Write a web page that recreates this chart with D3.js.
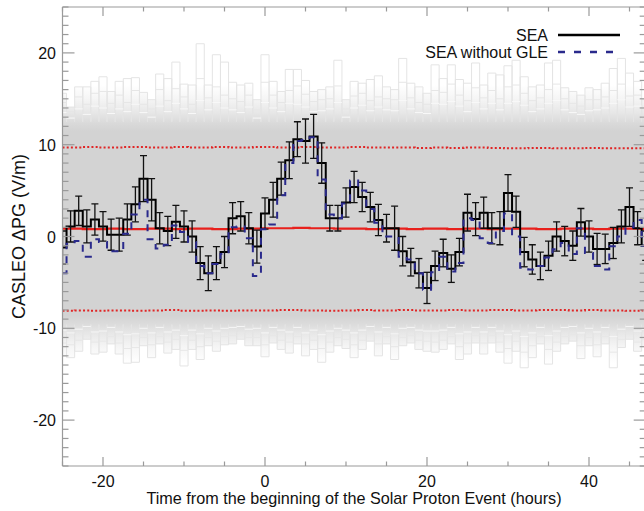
<!DOCTYPE html>
<html>
<head>
<meta charset="utf-8">
<script src="https://cdn.jsdelivr.net/npm/d3@7"></script>
<style>
  html, body { margin: 0; padding: 0; background: #fff; }
  svg { display: block; }
  text { font-family: "Liberation Sans", Arial, Helvetica, sans-serif; fill: #111; }
</style>
</head>
<body>
<svg id="chart" width="644" height="511"></svg>
<script>
// Hours relative to the onset of the solar proton event
const hours = [-25,-24,-23,-22,-21,-20,-19,-18,-17,-16,-15,-14,-13,-12,-11,-10,-9,-8,-7,-6,-5,-4,-3,-2,-1,
  0,1,2,3,4,5,6,7,8,9,10,11,12,13,14,15,16,17,18,19,20,21,22,23,24,25,26,27,28,29,30,31,32,33,34,35,36,
  37,38,39,40,41,42,43,44,45,46,47];

// Superposed epoch analysis of CASLEO ΔPG (V/m)
const sea = [-1.2,1.1,2.8,1.1,1.85,1.1,0.2,0.2,1.85,3.5,6.3,4.0,0.9,0.6,1.6,1.1,0.0,-2.9,-4.0,-2.9,-1.7,2.0,2.2,0.9,-1.1,
  2.5,4.0,6.3,8.3,10.6,10.4,10.9,8.0,2.0,2.0,3.7,5.4,4.3,3.2,1.8,0.9,0.9,-1.6,-2.8,-4.0,-5.6,-3.2,-1.8,-3.5,-1.7,2.6,1.9,
  2.6,0.9,0.9,4.75,2.7,-1.7,-2.5,-3.2,-2.1,0.0,-0.5,-1.0,1.55,0.0,-1.35,-1.35,-0.7,1.1,3.2,0.9,-1.0];

// Standard error of the SEA
const seaErr = [1.8,1.7,1.6,1.8,1.7,1.6,1.7,1.8,1.7,1.9,2.5,2.3,1.7,1.6,1.8,1.7,1.7,1.8,1.9,1.8,1.7,1.7,1.6,1.7,1.8,
  1.7,1.9,1.8,2.0,1.9,2.4,2.4,2.2,1.4,1.4,1.6,1.7,1.6,1.6,1.7,1.5,2.4,1.6,1.5,1.6,1.7,1.6,1.5,1.5,1.5,2.0,1.8,
  1.7,1.7,1.8,2.0,1.7,1.6,1.6,1.5,1.6,1.6,1.6,1.6,1.5,1.7,1.7,1.6,1.7,1.8,2.1,1.8,1.6];

// SEA computed without the ground level enhancement events
const seaNoGle = [-4.0,-0.8,-0.5,-2.2,-0.3,-0.6,-1.6,-1.6,0.3,2.4,4.0,-0.3,-1.3,-0.9,1.2,0.5,-0.6,-3.2,-4.0,-3.0,-1.9,1.0,1.1,-0.2,-4.3,
  0.8,1.3,4.5,8.0,10.4,10.5,10.8,6.2,2.4,2.0,3.6,6.1,5.0,3.0,1.5,0.0,0.0,-2.2,-2.5,-4.0,-5.8,-3.9,-2.2,-3.8,-2.9,2.0,1.8,
  -0.2,-0.7,0.6,2.5,0.0,-3.4,-3.6,-3.2,-2.3,-1.4,-0.7,-1.9,0.9,-1.8,-3.2,-3.6,-1.05,0.0,1.0,1.8,-1.0];

// Mean and 2-sigma limits of the random-epoch SEAs
const randMean = [0.85,0.85,0.85,0.8,0.8,0.8,0.85,0.85,0.8,0.8,0.8,0.85,0.85,0.85,0.8,0.8,0.85,0.85,0.85,0.8,0.8,0.8,0.85,0.85,0.85,
  0.9,0.9,0.9,0.9,0.95,0.95,0.9,0.9,0.9,0.85,0.85,0.85,0.85,0.8,0.8,0.85,0.85,0.85,0.8,0.8,0.85,0.85,0.85,0.8,0.8,0.85,0.85,
  0.85,0.8,0.8,0.85,0.85,0.85,0.85,0.8,0.8,0.8,0.85,0.85,0.85,0.85,0.8,0.8,0.85,0.85,0.85,0.85,0.8];
const randUp2s = [9.7,9.7,9.7,9.75,9.75,9.7,9.7,9.7,9.75,9.75,9.75,9.7,9.7,9.7,9.75,9.75,9.7,9.7,9.7,9.75,9.75,9.7,9.7,9.7,9.75,
  9.75,9.75,9.7,9.7,9.7,9.75,9.75,9.7,9.7,9.7,9.7,9.75,9.75,9.7,9.7,9.7,9.7,9.7,9.7,9.65,9.65,9.7,9.7,9.65,9.65,9.7,9.7,
  9.7,9.65,9.65,9.6,9.6,9.6,9.65,9.65,9.65,9.6,9.6,9.6,9.6,9.65,9.65,9.6,9.6,9.6,9.6,9.6,9.6];
const randLo2s = [-8.1,-8.1,-8.05,-8.05,-8.1,-8.1,-8.05,-8.05,-8.05,-8.1,-8.1,-8.05,-8.05,-8.0,-8.0,-8.1,-8.1,-8.1,-8.05,-8.05,-8.1,-8.1,-8.05,-8.05,-8.05,
  -8.05,-8.05,-8.0,-8.0,-8.0,-8.05,-8.05,-8.05,-8.1,-8.1,-8.05,-8.05,-8.0,-8.0,-8.05,-8.05,-8.05,-8.0,-8.0,-8.05,-8.05,-8.05,-8.05,-8.0,-8.0,-8.05,-8.05,
  -8.05,-8.0,-8.0,-8.0,-8.05,-8.05,-8.05,-8.0,-8.0,-8.0,-8.0,-8.05,-8.05,-8.0,-8.0,-8.05,-8.05,-8.05,-8.1,-8.1,-8.05];

// Envelope levels of the random-epoch SEA curves, per hour
const randMax = [15.6,14.1,16.3,16.3,16.9,17.4,15.8,16.9,17.2,17.3,15.7,14.9,17.7,17.2,19.0,16.6,16.5,21.0,16.5,19.8,19.0,16.8,16.5,16.7,14.9,
  19.8,16.9,15.8,18.2,18.2,17.0,15.8,16.0,16.3,19.2,14.9,16.9,16.7,17.1,17.5,16.3,16.0,19.4,16.7,16.3,15.6,18.7,17.2,18.7,17.1,16.7,18.9,
  16.5,17.8,17.6,18.6,19.2,17.4,16.3,16.5,18.9,19.2,16.2,15.8,15.4,16.2,16.0,16.7,18.3,19.4,17.8,16.9,14.9];
const randHigh2 = [14.6,13.6,15.2,14.4,15.6,15.8,14.5,15.4,14.6,15.9,14.4,13.9,16.0,14.8,16.1,15.2,14.4,17.2,15.1,16.3,15.4,15.0,14.7,15.4,13.8,
  16.8,15.4,14.6,15.9,16.4,15.5,14.7,14.9,15.0,16.4,13.9,15.3,15.6,14.8,15.2,15.0,14.9,16.8,15.1,14.6,14.4,15.9,15.7,16.6,15.4,14.8,16.2,
  15.1,15.9,15.0,16.3,16.5,15.6,14.8,15.1,16.0,16.6,15.0,14.5,14.2,14.9,14.9,15.2,15.9,16.6,15.3,15.4,13.9];
const randHigh3 = [13.5,12.9,13.9,13.3,14.2,14.0,13.4,13.9,13.6,14.4,13.5,13.0,14.2,13.6,14.5,13.9,13.4,14.8,13.8,14.6,14.0,13.8,13.5,14.1,12.9,
  14.6,14.0,13.6,14.5,14.4,14.1,13.6,13.7,13.9,14.6,13.0,14.0,14.3,13.7,14.1,13.8,13.7,14.8,13.9,13.5,13.4,14.5,14.4,14.7,14.2,13.6,14.6,
  13.9,14.5,13.8,14.5,14.7,14.3,13.6,13.9,14.5,14.8,13.8,13.5,13.3,13.7,13.8,14.0,14.5,14.9,14.1,14.2,13.0];
const randLow3 = [-10.2,-10.5,-10.1,-9.8,-10.4,-10.3,-9.9,-10.4,-10.7,-10.6,-10.0,-10.5,-9.9,-10.4,-10.2,-10.8,-10.2,-10.6,-10.0,-10.3,-10.0,-9.9,-9.8,-10.1,-10.0,
  -10.5,-9.9,-10.2,-10.4,-9.9,-10.5,-10.2,-10.7,-10.3,-10.0,-10.2,-10.5,-10.2,-9.8,-10.4,-9.9,-10.6,-10.0,-9.9,-10.2,-10.3,-10.3,-10.2,-9.9,-10.6,-10.4,-9.9,
  -10.4,-9.9,-10.3,-10.7,-10.3,-10.9,-10.5,-9.9,-10.8,-10.3,-9.9,-9.8,-10.5,-10.0,-10.4,-9.9,-10.9,-10.1,-9.8,-10.3,-10.1];
const randLow2 = [-11.6,-11.8,-11.3,-10.6,-11.5,-11.4,-10.9,-11.6,-12.2,-12.1,-11.0,-11.8,-10.9,-11.5,-11.2,-12.4,-11.3,-12.0,-11.0,-11.4,-10.9,-10.8,-10.5,-11.0,-11.0,
  -11.8,-10.8,-11.3,-11.5,-10.9,-11.7,-11.3,-12.2,-11.5,-11.0,-11.2,-11.8,-11.3,-10.6,-11.7,-10.9,-12.0,-11.0,-10.8,-11.3,-11.4,-11.5,-11.3,-10.9,-12.0,-11.6,-10.8,
  -11.6,-10.8,-11.5,-12.2,-11.4,-12.6,-11.9,-10.9,-12.3,-11.5,-10.9,-10.7,-11.9,-11.0,-11.8,-10.9,-12.6,-11.2,-10.6,-11.5,-11.2];
const randMin = [-13.0,-13.2,-12.5,-11.2,-12.8,-12.6,-11.7,-12.8,-13.8,-13.7,-11.9,-13.2,-11.7,-12.7,-12.3,-14.1,-12.3,-13.4,-11.9,-12.5,-11.8,-11.7,-11.2,-11.9,-11.9,
  -13.1,-11.6,-12.3,-12.7,-11.7,-13.0,-12.3,-13.7,-12.6,-11.9,-12.2,-13.2,-12.3,-11.4,-13.0,-11.7,-13.4,-11.9,-11.6,-12.3,-12.5,-12.6,-12.3,-11.7,-13.4,-12.8,-11.6,
  -12.8,-11.6,-12.6,-13.8,-12.5,-14.3,-13.2,-11.7,-13.9,-12.5,-11.7,-11.4,-13.3,-11.9,-13.1,-11.7,-14.3,-12.1,-11.2,-12.5,-12.0];

// Axis ticks
const xMajorTicks = [-20, 0, 20, 40];
const xMinorTicks = [-25,-15,-10,-5,5,10,15,25,30,35,45];
const yMajorTicks = [-20, -10, 0, 10, 20];
const yMinorTicks = d3.range(-25, 26).filter(v => v % 10 !== 0);

const svg = d3.select("#chart");
const pL = 62.5, pR = 645.7, pT = 7, pB = 466;

const x = d3.scaleLinear().domain([-25, 47]).range([pL, pR]);
const y = d3.scaleLinear().domain([-25, 25]).range([pB, pT]);

const defs = svg.append("defs");
defs.append("clipPath").attr("id", "plotClip")
  .append("rect").attr("x", pL).attr("y", pT)
  .attr("width", pR - pL).attr("height", pB - pT);

// Vertical shading of the random-curve band: dense in the core, fading outward
const grad = defs.append("linearGradient").attr("id", "bandFade")
  .attr("gradientUnits", "userSpaceOnUse")
  .attr("x1", 0).attr("x2", 0).attr("y1", y(25)).attr("y2", y(-25));
const off = v => (y(v) - y(25)) / (y(-25) - y(25));
[[16.5, "#ffffff"], [15, "#f5f5f5"], [13.5, "#e7e7e7"], [12.3, "#d9d9d9"], [11.5, "#d3d3d3"],
 [-8.6, "#d3d3d3"], [-9.5, "#dbdbdb"], [-10.6, "#e8e8e8"], [-12, "#f5f5f5"], [-13.8, "#ffffff"]]
  .forEach(([v, c]) => grad.append("stop").attr("offset", off(v)).attr("stop-color", c));

const plot = svg.append("g").attr("clip-path", "url(#plotClip)");

const rows = hours.map((h, i) => ({
  h, sea: sea[i], err: seaErr[i], noGle: seaNoGle[i], mean: randMean[i],
  up2: randUp2s[i], lo2: randLo2s[i],
  max: randMax[i], hi2: randHigh2[i], hi3: randHigh3[i],
  lo3: randLow3[i], lo2r: randLow2[i], min: randMin[i]
}));

// Band of random-epoch curves
plot.append("path").datum(rows)
  .attr("fill", "url(#bandFade)")
  .attr("d", d3.area().curve(d3.curveStep)
    .x(d => x(d.h)).y0(d => y(d.min)).y1(d => y(d.max)));

// Column outlines of the outermost random curves (open towards the core)
const colW = x(1) - x(0);
const colPath = (d, edge, core) => {
  const x0 = x(d.h) - colW / 2, x1 = x(d.h) + colW / 2;
  return `M${x0},${y(core)}V${y(edge)}H${x1}V${y(core)}`;
};
plot.append("g").selectAll("path").data(rows).join("path")
  .attr("d", d => colPath(d, d.max, 12.5))
  .attr("fill", "none").attr("stroke", "#e4e4e4").attr("stroke-width", 1);
plot.append("g").selectAll("path").data(rows).join("path")
  .attr("d", d => colPath(d, d.min, -9.6))
  .attr("fill", "none").attr("stroke", "#e4e4e4").attr("stroke-width", 1);

// Inner levels of the random curves
const levelLines = [
  ["hi2", "#e6e6e6"], ["hi3", "#f8f8f8"], ["lo3", "#f6f6f6"], ["lo2r", "#e7e7e7"]
];
levelLines.forEach(([k, c]) => {
  plot.append("g").selectAll("line").data(rows).join("line")
    .attr("x1", d => x(d.h) - colW / 2).attr("x2", d => x(d.h) + colW / 2)
    .attr("y1", d => y(d[k])).attr("y2", d => y(d[k]))
    .attr("stroke", c).attr("stroke-width", 1);
});

// 2-sigma limits and mean of the random SEAs
const stepLine = key => d3.line().curve(d3.curveStep).x(d => x(d.h)).y(d => y(d[key]));
plot.append("path").datum(rows).attr("d", stepLine("up2"))
  .attr("fill", "none").attr("stroke", "#e02626").attr("stroke-width", 2)
  .attr("stroke-dasharray", "2,2.2");
plot.append("path").datum(rows).attr("d", stepLine("lo2"))
  .attr("fill", "none").attr("stroke", "#e02626").attr("stroke-width", 2)
  .attr("stroke-dasharray", "2,2.2");
plot.append("path").datum(rows).attr("d", stepLine("mean"))
  .attr("fill", "none").attr("stroke", "#e8201c").attr("stroke-width", 2.2);

// SEA step curve with error bars
plot.append("path").datum(rows).attr("d", stepLine("sea"))
  .attr("fill", "none").attr("stroke", "#000").attr("stroke-width", 2);
const eb = plot.append("g").attr("stroke", "#111").attr("stroke-width", 1.3);
eb.append("g").selectAll("line").data(rows).join("line")
  .attr("x1", d => x(d.h)).attr("x2", d => x(d.h))
  .attr("y1", d => y(d.sea - d.err)).attr("y2", d => y(d.sea + d.err));
eb.append("g").selectAll("line").data(rows).join("line")
  .attr("x1", d => x(d.h) - 3.5).attr("x2", d => x(d.h) + 3.5)
  .attr("y1", d => y(d.sea + d.err)).attr("y2", d => y(d.sea + d.err));
eb.append("g").selectAll("line").data(rows).join("line")
  .attr("x1", d => x(d.h) - 3.5).attr("x2", d => x(d.h) + 3.5)
  .attr("y1", d => y(d.sea - d.err)).attr("y2", d => y(d.sea - d.err));

// SEA without GLE events
plot.append("path").datum(rows).attr("d", stepLine("noGle"))
  .attr("fill", "none").attr("stroke", "#2a2a8c").attr("stroke-width", 2)
  .attr("stroke-dasharray", "7,7");

// Frame and ticks
const axisColor = "#9a9a9a";
const frame = svg.append("g").attr("stroke", axisColor).attr("stroke-width", 1.2);
frame.append("line").attr("x1", pL).attr("x2", pL).attr("y1", pT).attr("y2", pB);
frame.append("line").attr("x1", pL).attr("x2", pR).attr("y1", pB).attr("y2", pB);
frame.append("line").attr("x1", pL).attr("x2", pR).attr("y1", pT).attr("y2", pT);
frame.append("line").attr("x1", pR).attr("x2", pR).attr("y1", pT).attr("y2", pB);

const xTick = (vals, len) => {
  frame.append("g").selectAll("line").data(vals).join("line")
    .attr("x1", d => x(d)).attr("x2", d => x(d)).attr("y1", pB).attr("y2", pB - len);
  frame.append("g").selectAll("line").data(vals).join("line")
    .attr("x1", d => x(d)).attr("x2", d => x(d)).attr("y1", pT).attr("y2", pT + len);
};
xTick(xMajorTicks, 9);
xTick(xMinorTicks, 4.5);
const yTick = (vals, len) => {
  frame.append("g").selectAll("line").data(vals).join("line")
    .attr("x1", pL).attr("x2", pL + len).attr("y1", d => y(d)).attr("y2", d => y(d));
  frame.append("g").selectAll("line").data(vals).join("line")
    .attr("x1", pR).attr("x2", pR - len).attr("y1", d => y(d)).attr("y2", d => y(d));
};
yTick(yMajorTicks, 12);
yTick(yMinorTicks, 6);

// Tick labels
svg.append("g").selectAll("text").data(xMajorTicks).join("text")
  .attr("x", d => x(d)).attr("y", 487).attr("text-anchor", "middle")
  .attr("font-size", 16).text(d => d);
svg.append("g").selectAll("text").data(yMajorTicks).join("text")
  .attr("x", 56).attr("y", d => y(d) + 6).attr("text-anchor", "end")
  .attr("font-size", 16).text(d => d);

// Axis titles
svg.append("text").attr("x", 354).attr("y", 504).attr("text-anchor", "middle")
  .attr("font-size", 16.2).text("Time from the beginning of the Solar Proton Event (hours)");
svg.append("text").attr("transform", `translate(25,${(pT + pB) / 2}) rotate(-90)`)
  .attr("text-anchor", "middle").attr("font-size", 18).text("CASLEO ΔPG (V/m)");

// Legend
const legend = svg.append("g");
legend.append("text").attr("x", 548).attr("y", 40.5).attr("text-anchor", "end")
  .attr("font-size", 16).text("SEA");
legend.append("line").attr("x1", 558).attr("x2", 620).attr("y1", 35).attr("y2", 35)
  .attr("stroke", "#000").attr("stroke-width", 2.6);
legend.append("text").attr("x", 548).attr("y", 57.5).attr("text-anchor", "end")
  .attr("font-size", 16).text("SEA without GLE");
legend.append("line").attr("x1", 558).attr("x2", 614).attr("y1", 52).attr("y2", 52)
  .attr("stroke", "#2a2a8c").attr("stroke-width", 2.6).attr("stroke-dasharray", "7,9");
</script>
</body>
</html>
